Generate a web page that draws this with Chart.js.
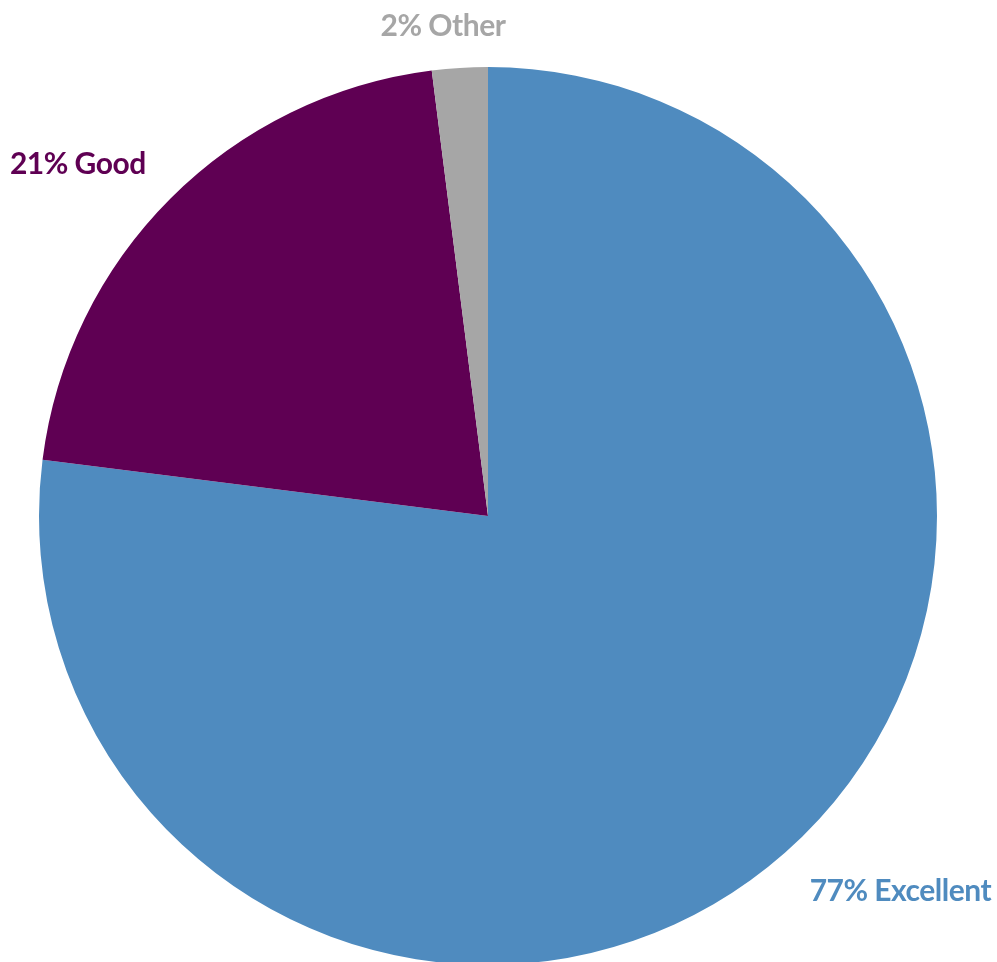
<!DOCTYPE html>
<html>
<head>
<meta charset="utf-8">
<script src="https://cdn.jsdelivr.net/npm/chart.js@4"></script>
<style>
  html, body { margin: 0; padding: 0; background: #fff; overflow: hidden; }
  #wrap { position: relative; width: 997px; height: 965px; }
</style>
</head>
<body>
<div id="wrap"><canvas id="pieChart"></canvas></div>
<script>
const labels = ['Excellent', 'Good', 'Other'];
const percents = [77, 21, 2];
const colors = ['#4F8BBF', '#5F0053', '#A6A6A6'];

// 扇区外侧的百分比标签
const outsideLabels = {
    id: 'outsideLabels',
    afterDraw(chart) {
        const ctx = chart.ctx;
        const meta = chart.getDatasetMeta(0);
        const nudge = [[-5, 5], [7, -2], [0, 3]];
        ctx.save();
        ctx.font = 'bold 30px Lato';
        ctx.letterSpacing = '-0.5px';
        ctx.textBaseline = 'middle';
        meta.data.forEach((arc, i) => {
            const mid = (arc.startAngle + arc.endAngle) / 2;
            const r = arc.outerRadius + 45;
            const x = arc.x + Math.cos(mid) * r;
            const y = arc.y + Math.sin(mid) * r;
            const c = Math.cos(mid);
            ctx.textAlign = Math.abs(c) < 0.2 ? 'center' : (c > 0 ? 'left' : 'right');
            ctx.fillStyle = colors[i];
            const dx = Math.abs(c) < 0.2 ? -14 : 0;
            ctx.fillText(`${percents[i]}% ${labels[i]}`, x + dx + nudge[i][0], y + nudge[i][1]);
        });
        ctx.restore();
    }
};

new Chart(document.getElementById('pieChart').getContext('2d'), {
    type: 'pie',
    data: {
        labels: labels,
        datasets: [{
            data: percents,
            backgroundColor: colors,
            borderWidth: 0
        }]
    },
    options: {
        responsive: true,
        maintainAspectRatio: false,
        animation: false,
        layout: { padding: { left: 39, right: 60, top: 67, bottom: 0 } },
        plugins: {
            legend: { display: false },
            tooltip: { enabled: false }
        }
    },
    plugins: [outsideLabels]
});
</script>
</body>
</html>
